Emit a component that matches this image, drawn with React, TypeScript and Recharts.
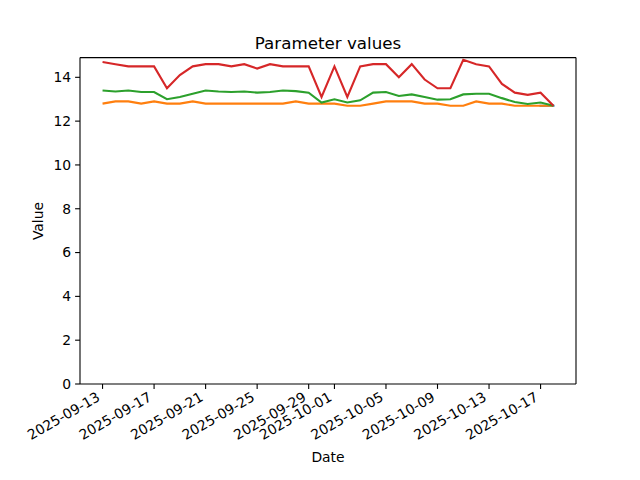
import { LineChart, Line, XAxis, YAxis, ReferenceLine } from 'recharts'

const dates = [
  '2025-09-13', '2025-09-14', '2025-09-15', '2025-09-16', '2025-09-17', '2025-09-18',
  '2025-09-19', '2025-09-20', '2025-09-21', '2025-09-22', '2025-09-23', '2025-09-24',
  '2025-09-25', '2025-09-26', '2025-09-27', '2025-09-28', '2025-09-29', '2025-09-30',
  '2025-10-01', '2025-10-02', '2025-10-03', '2025-10-04', '2025-10-05', '2025-10-06',
  '2025-10-07', '2025-10-08', '2025-10-09', '2025-10-10', '2025-10-11', '2025-10-12',
  '2025-10-13', '2025-10-14', '2025-10-15', '2025-10-16', '2025-10-17', '2025-10-18',
]

const blueValues: (number | null)[] = [
  null, null, null, null, null, null, null, null, null, null, null, null,
  null, null, null, null, null, null, null, null, null, null, null, null,
  null, null, null, null, null, null, null, null, null, null, 12.7, 12.7,
]

const orangeValues = [
  12.8, 12.9, 12.9, 12.8, 12.9, 12.8, 12.8, 12.9, 12.8, 12.8, 12.8, 12.8,
  12.8, 12.8, 12.8, 12.9, 12.8, 12.8, 12.8, 12.7, 12.7, 12.8, 12.9, 12.9,
  12.9, 12.8, 12.8, 12.7, 12.7, 12.9, 12.8, 12.8, 12.7, 12.7, 12.7, 12.7,
]

const greenValues = [
  13.4, 13.35, 13.4, 13.33, 13.33, 13.0, 13.1, 13.25, 13.4, 13.35, 13.33, 13.35,
  13.3, 13.33, 13.4, 13.37, 13.3, 12.85, 13.0, 12.85, 12.95, 13.3, 13.33, 13.15,
  13.22, 13.1, 12.98, 13.0, 13.22, 13.25, 13.25, 13.05, 12.87, 12.78, 12.85, 12.7,
]

const redValues = [
  14.7, 14.6, 14.5, 14.5, 14.5, 13.5, 14.1, 14.5, 14.6, 14.6, 14.5, 14.6,
  14.4, 14.6, 14.5, 14.5, 14.5, 13.1, 14.5, 13.1, 14.5, 14.6, 14.6, 14.0,
  14.6, 13.9, 13.5, 13.5, 14.8, 14.6, 14.5, 13.7, 13.3, 13.2, 13.3, 12.7,
]

const xTicks = [0, 4, 8, 12, 16, 18, 22, 26, 30, 34]
const yTicks = [0, 2, 4, 6, 8, 10, 12, 14]

const xDomain = [-1.75, 36.75]
const yDomain = [0, 14.9]

const data = dates.map((d, i) => ({
  day: i,
  date: d,
  blue: blueValues[i],
  orange: orangeValues[i],
  green: greenValues[i],
  red: redValues[i],
}))

const font = 'DejaVu Sans, sans-serif'

function DateTick(props: any) {
  const { x, y, payload } = props
  const ax = x - 1.5
  const ay = y + 9
  return (
    <text
      x={ax}
      y={ay}
      textAnchor="end"
      fontSize={13.9}
      fontFamily={font}
      fill="#000"
      transform={`rotate(-30, ${ax}, ${ay})`}
    >
      {dates[payload.value]}
    </text>
  )
}

export default function App() {
  return (
    <div style={{ position: 'absolute', left: 0, top: 0, width: 640, height: 480, background: '#fff', fontFamily: font }}>
      <div style={{ position: 'absolute', left: 80, top: 35, width: 496, textAlign: 'center', fontSize: 16.7, lineHeight: 1 }}>
        Parameter values
      </div>
      <div style={{ position: 'absolute', left: 80, top: 451, width: 496, textAlign: 'center', fontSize: 13.9, lineHeight: 1 }}>
        Date
      </div>
      <div
        style={{
          position: 'absolute',
          left: 39,
          top: 221,
          fontSize: 13.9,
          lineHeight: 1,
          transform: 'translate(-50%, -50%) rotate(-90deg)',
        }}
      >
        Value
      </div>
      <LineChart
        width={640}
        height={480}
        data={data}
        margin={{ top: 57.6, right: 64, left: 0, bottom: 0 }}
        style={{ position: 'absolute', left: 0, top: 0 }}
      >
        <XAxis
          dataKey="day"
          type="number"
          domain={xDomain}
          ticks={xTicks}
          interval={0}
          height={96}
          tick={<DateTick />}
          tickSize={4.9}
          axisLine={{ stroke: '#000', strokeWidth: 1.1 }}
          tickLine={{ stroke: '#000', strokeWidth: 1.1 }}
          allowDataOverflow
        />
        <YAxis
          type="number"
          domain={yDomain}
          ticks={yTicks}
          interval={0}
          width={80}
          tickSize={4.9}
          tickMargin={4}
          tick={{ fill: '#000', fontSize: 13.9, fontFamily: font }}
          axisLine={{ stroke: '#000', strokeWidth: 1.1 }}
          tickLine={{ stroke: '#000', strokeWidth: 1.1 }}
          allowDataOverflow
        />
        <ReferenceLine y={yDomain[1]} stroke="#000" strokeWidth={1.1} />
        <ReferenceLine x={xDomain[1]} stroke="#000" strokeWidth={1.1} />
        <Line dataKey="blue" stroke="#1f77b4" strokeWidth={2.1} strokeLinecap="square" dot={false} isAnimationActive={false} />
        <Line dataKey="orange" stroke="#ff7f0e" strokeWidth={2.1} dot={false} isAnimationActive={false} />
        <Line dataKey="green" stroke="#2ca02c" strokeWidth={2.1} dot={false} isAnimationActive={false} />
        <Line dataKey="red" stroke="#d62728" strokeWidth={2.1} dot={false} isAnimationActive={false} />
      </LineChart>
    </div>
  )
}
